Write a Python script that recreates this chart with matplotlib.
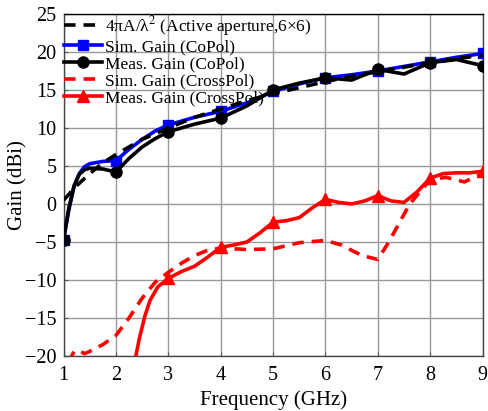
"""Gain vs frequency, co-pol and cross-pol, simulated and measured."""
import numpy as np
import matplotlib
matplotlib.use("Agg")
import matplotlib.pyplot as plt

plt.rcParams["font.family"] = ["Liberation Serif", "DejaVu Serif"]
plt.rcParams["mathtext.fontset"] = "stix"

# aperture limit 4*pi*A/lambda^2
f_ap = [1, 1.25, 1.5, 1.75, 2, 2.5, 3, 3.5, 4, 4.5, 5, 5.5, 6, 6.5, 7, 7.5, 8, 8.5, 9]
g_ap = [0.5, 2.4, 4.0, 5.4, 6.5, 8.5, 10.0, 11.4, 12.5, 13.6, 14.5, 15.3, 16.1,
        16.8, 17.4, 18.0, 18.6, 19.1, 19.6]

# co-pol
f_co = [1, 1.1, 1.2, 1.3, 1.4, 1.5, 1.75, 2, 2.25, 2.5, 2.75, 3, 3.5, 4, 4.5,
        5, 5.5, 6, 6.5, 7, 7.5, 8, 8.5, 9]
g_sim_co = [-4.7, -0.8, 2.3, 4.0, 4.9, 5.3, 5.6, 5.7, 7.2, 8.5, 9.6, 10.4, 11.4,
            12.2, 13.3, 14.8, 15.8, 16.6, 17.0, 17.5, 18.1, 18.7, 19.3, 19.8]
g_meas_co = [-4.7, -0.6, 2.4, 3.9, 4.5, 4.7, 4.6, 4.2, 6.0, 7.5, 8.6, 9.5, 10.5,
             11.3, 12.9, 15.0, 15.9, 16.6, 16.3, 17.7, 17.1, 18.6, 19.0, 18.2]

# cross-pol, simulated
f_sim_x = [1.1, 1.2, 1.3, 1.4, 1.5, 1.75, 2, 2.25, 2.5, 2.75, 3, 3.25, 3.5, 3.75,
           4, 4.5, 5, 5.5, 6, 6.3, 6.7, 7, 7.2, 7.4, 7.6, 7.8, 8, 8.3, 8.65, 9]
g_sim_x = [-20.8, -19.4, -19.3, -19.7, -19.4, -18.5, -17.3, -15.0, -12.4, -10.3,
           -9.0, -7.8, -6.8, -6.1, -5.8, -6.0, -5.9, -5.1, -4.8, -5.4, -6.8, -7.3,
           -5.1, -2.6, -0.1, 1.6, 3.2, 3.5, 2.9, 4.0]

# cross-pol, measured
f_meas_x = [2.35, 2.45, 2.55, 2.65, 2.8, 3, 3.25, 3.5, 3.75, 4, 4.25, 4.5, 4.75,
            5, 5.25, 5.5, 5.75, 6, 6.25, 6.5, 6.75, 7, 7.25, 7.5, 7.75, 8, 8.25,
            8.5, 8.75, 9]
g_meas_x = [-21.0, -17.6, -14.8, -12.7, -10.9, -9.8, -8.9, -8.2, -7.0, -5.7, -5.4,
            -5.0, -3.8, -2.4, -2.2, -1.8, -0.5, 0.6, 0.2, 0.0, 0.4, 1.1, 0.4, 0.2,
            1.6, 3.4, 4.0, 4.1, 4.1, 4.3]


def whole_ghz(f):
    return [i for i, v in enumerate(f) if float(v).is_integer()]


fig = plt.figure(figsize=(4.89, 4.11), dpi=100)
ax = fig.add_axes([0.130, 0.134, 0.857, 0.832])

ax.plot(f_ap, g_ap, color="black", lw=2.6, ls=(0, (3.2, 2.2)), zorder=5,
        label=r"4πA/λ$^2$ (Active aperture,6×6)")
ax.plot(f_co, g_sim_co, color="#0000ff", lw=2.6, marker="s", ms=7,
        markevery=whole_ghz(f_co), zorder=3, label="Sim. Gain (CoPol)")
ax.plot(f_co, g_meas_co, color="black", lw=2.6, marker="o", ms=8,
        markevery=whole_ghz(f_co), zorder=4, label="Meas. Gain (CoPol)")
ax.plot(f_sim_x, g_sim_x, color="#ff0000", lw=2.6, ls=(0, (3.2, 2.2)), zorder=3,
        label="Sim. Gain (CrossPol)")
ax.plot(f_meas_x, g_meas_x, color="#ff0000", lw=2.6, marker="^", ms=8,
        markevery=whole_ghz(f_meas_x), zorder=4, label="Meas. Gain (CrossPol)")

ax.set_xlim(1, 9)
ax.set_ylim(-20, 25)
ax.set_xticks(range(1, 10))
ax.set_yticks(range(-20, 26, 5))
ax.grid(True, color="#999999", lw=1.0)
ax.set_axisbelow(True)
ax.tick_params(labelsize=14.5, direction="in", length=3, color="#555555")
ax.tick_params(axis="x", pad=7)
ax.tick_params(axis="y", pad=5)
for s in ax.spines.values():
    s.set_color("#444444")
    s.set_linewidth(1.0)
ax.spines["top"].set_color("black")

ax.set_xlabel("Frequency (GHz)", fontsize=15, labelpad=4)
ax.set_ylabel("Gain (dBi)", fontsize=15)
ax.yaxis.set_label_coords(-0.085, 0.5)

ax.legend(loc="upper left", frameon=False, fontsize=12.5, handlelength=2.2,
          handletextpad=0.2, labelspacing=0.05, borderaxespad=0.0,
          borderpad=0.0)

fig.savefig("out.png", dpi=100)
